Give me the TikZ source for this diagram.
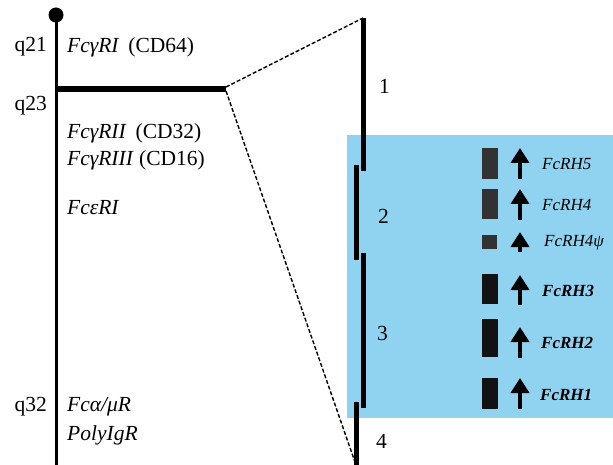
\documentclass[tikz,border=0pt]{standalone}
\usepackage{fontspec}
\setmainfont{Liberation Serif}
\usetikzlibrary{arrows.meta}
\definecolor{bluebg}{RGB}{143,211,240}
\definecolor{boxgray}{RGB}{50,50,50}
\definecolor{boxblack}{RGB}{18,18,18}
\begin{document}
\begin{tikzpicture}[x=1pt,y=-1pt,
  lbl/.style={anchor=west,inner sep=0pt,font=\fontsize{21.5}{23}\selectfont},
  num/.style={anchor=west,inner sep=0pt,font=\fontsize{21.5}{23}\selectfont},
  gene/.style={anchor=west,inner sep=0pt,font=\fontsize{17}{19}\selectfont\itshape},
  bgene/.style={anchor=west,inner sep=0pt,font=\fontsize{17}{19}\selectfont\bfseries\itshape},
  seg/.style={line width=5pt},
  dash line/.style={line width=1.4pt,dash pattern=on 4pt off 2pt},
  uparrow/.style={line width=4pt,-{Triangle[width=18pt,length=15pt]}},
  genebox/.style={fill=boxgray,draw=none},
  genebox2/.style={fill=boxblack,draw=none}]
\useasboundingbox (0,0) rectangle (613,465);
% background
\fill[bluebg] (347,135) rectangle (613,418);
% chromosome
\coordinate (top) at (56,15);
\coordinate (bot) at (56,465);
\draw[line width=3pt] (top) -- (bot);
\fill (top) circle (7.5);
\coordinate (barL) at (56,89);
\coordinate (barR) at (226,89);
\draw[line width=6.5pt] (barL) -- (barR);
% zoom segments
\coordinate (s1a) at (363,18);  \coordinate (s1b) at (363,171);
\coordinate (s2a) at (356,165); \coordinate (s2b) at (356,260);
\coordinate (s3a) at (363,253); \coordinate (s3b) at (363,408);
\coordinate (s4a) at (356,402); \coordinate (s4b) at (356,465);
\draw[seg] (s1a) -- (s1b);
\draw[seg] (s2a) -- (s2b);
\draw[seg] (s3a) -- (s3b);
\draw[seg] (s4a) -- (s4b);
\draw[dash line] (226,87) -- (s1a);
\draw[dash line] (226,91) -- (s4b);
% left labels
\node[lbl,anchor=east] (q21) at (47,47) {q21};
\node[lbl,anchor=east] (q23) at (47,106) {q23};
\node[lbl,anchor=east] (q32) at (47,407) {q32};
\node[lbl] (g1) at (67,47) {\textit{FcγRI}\, (CD64)};
\node[lbl] (g2) at (67,133) {\textit{FcγRII}\, (CD32)};
\node[lbl] (g3) at (67,160) {\textit{FcγRIII} (CD16)};
\node[lbl] (g4) at (67,208) {\textit{FcεRI}};
\node[lbl] (g5) at (67,407) {\textit{Fcα/μR}};
\node[lbl] (g6) at (67,435) {\textit{PolyIgR}};
% numbers
\node[num] (n1) at (379,86) {1};
\node[num] (n2) at (378,216) {2};
\node[num] (n3) at (377,333) {3};
\node[num] (n4) at (376,441) {4};
% gene boxes, arrows, names
\fill[genebox] (482,148) rectangle (498,179);
\draw[uparrow] (520,179) -- (520,148);
\node[gene] (h5) at (542,164) {FcRH5};
\fill[genebox] (482,189) rectangle (498,219);
\draw[uparrow] (520,220) -- (520,189);
\node[gene] (h4) at (542,205) {FcRH4};
\fill[genebox] (482,235) rectangle (497,249);
\draw[uparrow] (520,252) -- (520,232);
\node[gene] (h4p) at (544,243) {FcRH4ψ};
\fill[genebox2] (482,274) rectangle (498,304);
\draw[uparrow] (520,305) -- (520,275);
\node[bgene] (h3) at (542,291) {FcRH3};
\fill[genebox2] (482,319) rectangle (498,357);
\draw[uparrow] (520,358) -- (520,327);
\node[bgene] (h2) at (541,343) {FcRH2};
\fill[genebox2] (482,378) rectangle (498,409);
\draw[uparrow] (520,409) -- (520,378);
\node[bgene] (h1) at (540,395) {FcRH1};
\end{tikzpicture}
\end{document}
